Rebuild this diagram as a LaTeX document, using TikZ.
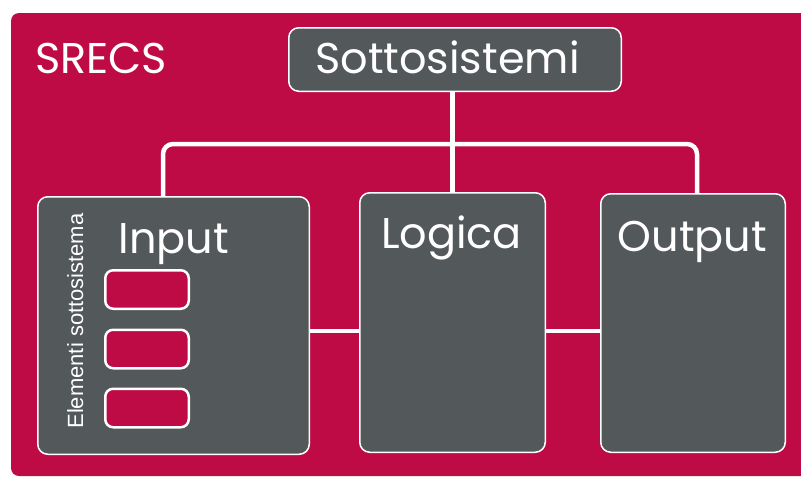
\documentclass[tikz,border=0pt]{standalone}
\usepackage{fontspec}
\setmainfont{Poppins}
\newfontfamily\elemfont{Liberation Sans}
\usetikzlibrary{positioning}

\definecolor{srecsred}{RGB}{190,11,69}
\definecolor{boxgray}{RGB}{83,88,91}

\tikzset{
    subsys/.style={draw=white, line width=1.5pt, fill=boxgray, rounded corners=10pt, inner sep=0pt},
    elem/.style={draw=white, line width=2.5pt, fill=srecsred, rounded corners=8pt, minimum width=83.5pt, minimum height=38.5pt, inner sep=0pt},
    title/.style={text=white, font=\fontsize{43}{45}\selectfont, anchor=base, inner sep=0pt},
    link/.style={white, line width=4.5pt},
}

\begin{document}
\begin{tikzpicture}[x=1pt, y=-1pt]
        \clip (0,0) rectangle (801,477);
        \fill[srecsred, rounded corners=8pt] (11,13) rectangle (820,476);

        \node[subsys, minimum width=332.5pt, minimum height=63.5pt] (sotto) at (455,59.5) {};
        \node[subsys, minimum width=271.5pt, minimum height=257.5pt] (input) at (173.5,325.5) {};
        \node[subsys, minimum width=185.5pt, minimum height=259.5pt] (logica) at (452.5,322.5) {};
        \node[subsys, minimum width=184.5pt, minimum height=258.5pt] (output) at (693,323) {};

        \node[title, anchor=base west] (srecs) at (35,73) {SRECS};
        \node[title] (sottoT) at (447.5,73) {Sottosistemi};
        \node[title] (inputT) at (174,253) {Input};
        \node[title] (logicaT) at (451.5,248) {Logica};
        \node[title] (outputT) at (692.5,251) {Output};

        \node[rotate=90, anchor=base, text=white, inner sep=0pt, font=\elemfont\fontsize{22}{24}\selectfont] (elemT) at (83,321) {Elementi sottosistema};
        \foreach \y/\n in {289.5/1, 349/2, 408/3}
            \node[elem] (elem\n) at (147,\y) {};

        \coordinate (bar) at (0,144);
        \coordinate (mid) at (0,331);
        \draw[link] (sotto.south -| logica.north) -- (logica.north);
        \draw[link, rounded corners=10pt] ([xshift=-10.5pt]input.north) |- (bar -| logica.north) -| ([xshift=4pt]output.north);
        \draw[link] (input.east |- mid) -- (logica.west |- mid);
        \draw[link] (logica.east |- mid) -- (output.west |- mid);
    \end{tikzpicture}
\end{document}
